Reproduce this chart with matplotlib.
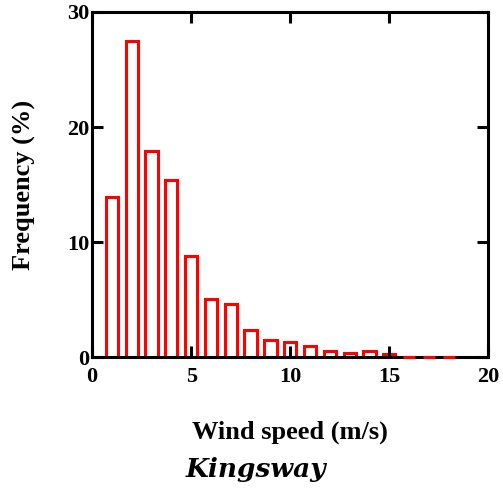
import matplotlib
matplotlib.use("Agg")
import matplotlib.pyplot as plt

# Data
wind_speed = [1, 2, 3, 4, 5, 6, 7, 8, 9, 10, 11, 12, 13, 14, 15, 16, 17, 18]
frequency = [13.9, 27.5, 17.9, 15.4, 8.8, 5.1, 4.6, 2.4, 1.5, 1.3, 1.0, 0.6, 0.4, 0.55, 0.3, 0.05, 0.05, 0.05]
x_ticks = [0, 5, 10, 15, 20]
y_ticks = [0, 10, 20, 30]

fig = plt.figure(figsize=(5.03, 4.91), dpi=100)
ax = fig.add_axes([0.183, 0.272, 0.788, 0.704])

bars = ax.bar(wind_speed, frequency, width=0.62, facecolor="white", edgecolor="#ff0000", linewidth=2.2)
for p in bars.patches[15:]:
    p.set_zorder(3)
    p.set_clip_on(False)

ax.set_xlim(0, 20)
ax.set_ylim(0, 30)
ax.set_xticks(x_ticks)
ax.set_yticks(y_ticks)
for s in ax.spines.values():
    s.set_linewidth(2.2)
    s.set_color("black")

ax.tick_params(direction="in", length=8, width=2.2, top=True, right=True,
               labeltop=False, labelright=False)
ax.tick_params(axis="x", pad=7)
ax.tick_params(axis="y", pad=2)
for lab in ax.get_xticklabels() + ax.get_yticklabels():
    lab.set_fontfamily("Liberation Serif")
    lab.set_fontweight("bold")
    lab.set_fontsize(16)

ax.set_xlabel("Wind speed (m/s)", fontfamily="Liberation Serif", fontweight="bold",
              fontsize=19, labelpad=24)
ax.set_ylabel("Frequency (%)", fontfamily="Liberation Serif", fontweight="bold",
              fontsize=19, labelpad=22)

fig.text(0.508, 0.043, "Kingsway", fontfamily="DejaVu Serif", fontstyle="italic",
         fontweight="bold", fontsize=19, ha="center", va="center")

fig.savefig("out.png", dpi=100)
